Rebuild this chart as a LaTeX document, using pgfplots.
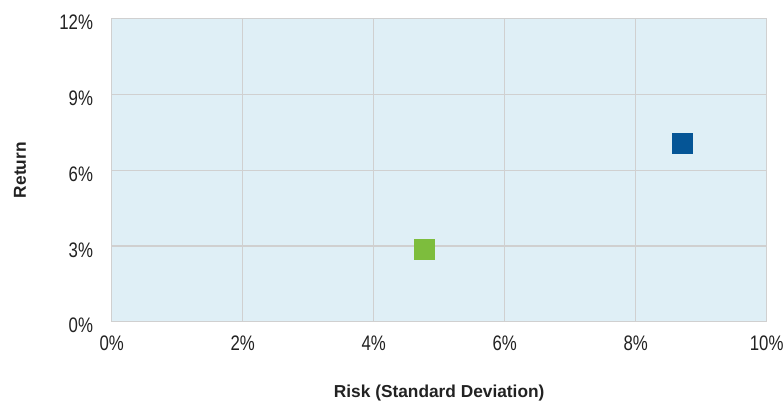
\documentclass[border=0pt]{standalone}
\usepackage{fontspec}
\setmainfont{Liberation Sans}
\newfontfamily\narrowfont[FakeStretch=0.8]{Liberation Sans}
\usepackage{pgfplots}
\pgfplotsset{compat=1.18}
\definecolor{bgblue}{RGB}{223,239,246}
\definecolor{gridgray}{RGB}{208,208,208}
\definecolor{ptblue}{RGB}{5,85,150}
\definecolor{ptgreen}{RGB}{125,189,61}
\definecolor{txt}{RGB}{34,34,34}
\begin{document}
\begin{tikzpicture}
\path[use as bounding box] (-111.7pt,-78.3pt) rectangle (671.3pt,321.7pt);
\begin{axis}[
  at={(0pt,0pt)}, anchor=south west,
  scale only axis, width=655pt, height=303pt,
  xmin=0, xmax=10, ymin=0, ymax=12,
  xtick={0,2,4,6,8,10}, ytick={0,3,6,9,12},
  xticklabels={0\%,2\%,4\%,6\%,8\%,10\%},
  yticklabels={0\%,3\%,6\%,9\%,12\%},
  axis background/.style={fill=bgblue},
  axis line style={draw=gridgray, line width=1.5pt},
  grid=major, grid style={draw=gridgray, line width=1.2pt},
  major tick length=0pt,
  tick style={draw=none},
  xticklabel style={font=\narrowfont\fontsize{21}{23}\selectfont, text=txt, anchor=north, inner sep=0pt, yshift=-14pt},
  yticklabel style={font=\narrowfont\fontsize{21}{23}\selectfont, text=txt, anchor=east, inner sep=0pt, xshift=-18.5pt, yshift=-4pt},
  xlabel={Risk (Standard Deviation)},
  ylabel={Return},
  xlabel style={font=\bfseries\fontsize{17.3}{20}\selectfont, text=txt, at={(axis description cs:0.5,0)}, anchor=base, yshift=-76pt},
  ylabel style={font=\bfseries\fontsize{17.3}{20}\selectfont, text=txt, at={(axis description cs:0,0.5)}, anchor=center, rotate=0, yshift=91.7pt},
]
\addplot[only marks, mark=square*, mark size=10pt, mark options={fill=ptgreen, draw=ptgreen, line width=0pt}] coordinates {(4.77,2.87)};
\addplot[only marks, mark=square*, mark size=10pt, mark options={fill=ptblue, draw=ptblue, line width=0pt}] coordinates {(8.72,7.07)};
\end{axis}
\end{tikzpicture}
\end{document}
